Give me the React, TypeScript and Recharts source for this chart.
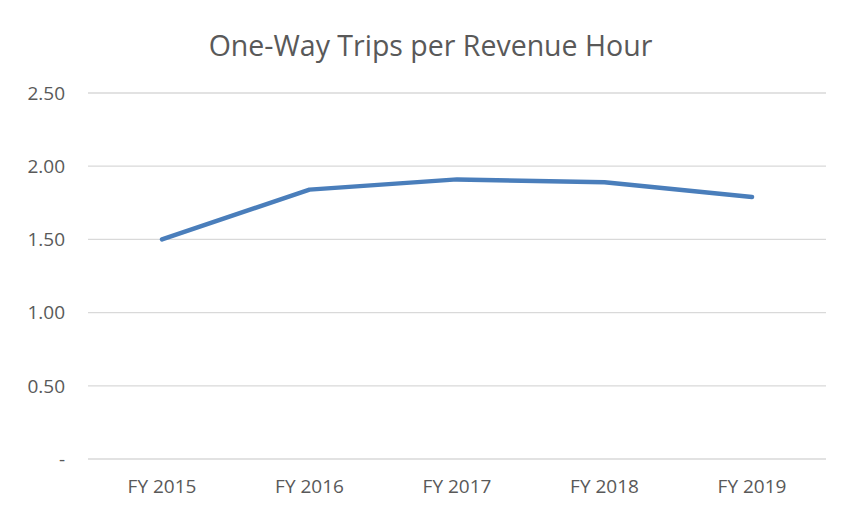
import React from "react";
import { LineChart, Line, XAxis, YAxis, CartesianGrid } from "recharts";

const categories = ["FY 2015", "FY 2016", "FY 2017", "FY 2018", "FY 2019"];
const tripsPerHour = [1.5, 1.84, 1.91, 1.89, 1.79];
const yTicks = [0, 0.5, 1.0, 1.5, 2.0, 2.5];
const title = "One-Way Trips per Revenue Hour";

const data = categories.map((c, i) => ({ name: c, value: tripsPerHour[i] }));

const FONT = "'Open Sans', sans-serif";

export default function App() {
  return (
    <div
      style={{
        position: "relative",
        width: 841,
        height: 512,
        marginLeft: -8,
        marginTop: -8,
        overflow: "hidden",
        background: "#fff",
        fontFamily: FONT,
      }}
    >
      <div
        style={{
          position: "absolute",
          left: 0,
          top: 26,
          width: 861,
          textAlign: "center",
          fontSize: 28.5,
          color: "#595959",
          lineHeight: "38px",
        }}
      >
        {title}
      </div>
      <div style={{ position: "absolute", left: 0, top: 0 }}>
        <LineChart
          width={841}
          height={512}
          data={data}
          margin={{ top: 93, right: 15, bottom: 0, left: 0 }}
        >
          <CartesianGrid vertical={false} stroke="#d9d9d9" strokeWidth={1.3} />
          <XAxis
            dataKey="name"
            axisLine={false}
            tickLine={false}
            tickSize={0}
            tickMargin={21}
            height={53}
            interval={0}
            padding={{ left: 74, right: 74 }}
            tick={{ fill: "#595959", fontSize: 19, fontFamily: FONT }}
          />
          <YAxis
            domain={[0, 2.5]}
            ticks={yTicks}
            axisLine={false}
            tickLine={false}
            tickSize={0}
            tickMargin={23}
            width={88}
            tickFormatter={(v: number) => (v === 0 ? "-" : v.toFixed(2))}
            tick={{ fill: "#595959", fontSize: 19, fontFamily: FONT }}
          />
          <Line
            type="linear"
            dataKey="value"
            stroke="#4A7EBB"
            strokeWidth={4.5}
            strokeLinecap="round"
            strokeLinejoin="round"
            dot={false}
            isAnimationActive={false}
          />
        </LineChart>
      </div>
      <div
        style={{
          position: "absolute",
          left: 5,
          top: 4,
          width: 836,
          height: 2,
          background: "#a8a8a8",
          pointerEvents: "none",
        }}
      />
      <div
        style={{
          position: "absolute",
          left: 5,
          top: 4,
          width: 2,
          height: 508,
          background: "#a8a8a8",
          pointerEvents: "none",
        }}
      />
    </div>
  );
}
